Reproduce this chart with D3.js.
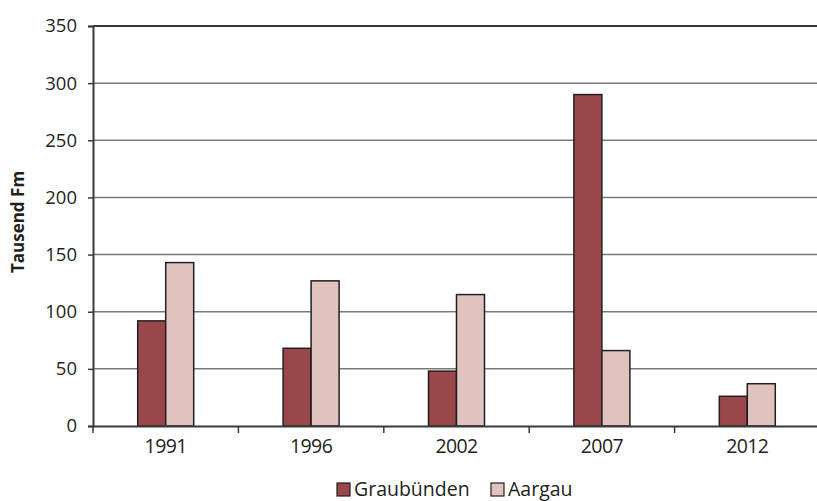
<!DOCTYPE html>
<html>
<head>
<meta charset="utf-8">
<script src="https://cdn.jsdelivr.net/npm/d3@7"></script>
<style>
  body { margin: 0; background: #fff; }
  text { font-family: "Open Sans", "Noto Sans", sans-serif; fill: #231f20; }
</style>
</head>
<body>
<div id="chart"></div>
<script>
// chart data
var years = ["1991", "1996", "2002", "2007", "2012"];
var seriesNames = ["Graubünden", "Aargau"];
var graubuenden = [92, 68, 48, 290, 26];
var aargau = [143, 127, 115, 66, 37];
var yTicks = [0, 50, 100, 150, 200, 250, 300, 350];

var colors = ["#9a474c", "#e0c3bf"];

var svgWidth = 817;
var svgHeight = 501;
var margin = { top: 26, right: -3, bottom: 75, left: 93 };
var chartWidth = svgWidth - margin.left - margin.right;
var chartHeight = svgHeight - margin.top - margin.bottom;

var svg = d3.select("#chart")
  .append("svg")
  .attr("width", svgWidth)
  .attr("height", svgHeight);

var chartGroup = svg.append("g")
  .attr("transform", `translate(${margin.left}, ${margin.top})`);

var rows = years.map(function(y, i) {
  return { year: y, values: [graubuenden[i], aargau[i]] };
});

// scales
var xScale = d3.scaleBand()
  .domain(years)
  .range([0, chartWidth]);

var xInner = d3.scaleBand()
  .domain(seriesNames)
  .range([0, 56]);

var yScale = d3.scaleLinear()
  .domain([0, 350])
  .range([chartHeight, 0]);

// gridlines
chartGroup.append("g")
  .selectAll("line")
  .data(yTicks.filter(d => d > 0))
  .enter()
  .append("line")
  .attr("x1", 0)
  .attr("x2", chartWidth)
  .attr("y1", d => yScale(d))
  .attr("y2", d => yScale(d))
  .attr("stroke", d => d === 350 ? "#3a3a3a" : "#7a7a7a")
  .attr("stroke-width", d => d === 350 ? 2 : 1.5);

// bars
var groups = chartGroup.selectAll(".grp")
  .data(rows)
  .enter()
  .append("g")
  .attr("transform", d => `translate(${xScale(d.year) + xScale.bandwidth() / 2 - 28}, 0)`);

groups.selectAll("rect")
  .data(d => d.values.map((v, i) => ({ name: seriesNames[i], value: v, idx: i })))
  .enter()
  .append("rect")
  .attr("x", d => xInner(d.name))
  .attr("y", d => yScale(d.value))
  .attr("width", xInner.bandwidth())
  .attr("height", d => chartHeight - yScale(d.value))
  .attr("fill", d => colors[d.idx])
  .attr("stroke", "#231f20")
  .attr("stroke-width", 1.5);

// y axis
var leftAxis = d3.axisLeft(yScale)
  .tickValues(yTicks)
  .tickSize(5)
  .tickPadding(11);

var yAxisG = chartGroup.append("g").call(leftAxis);
yAxisG.select(".domain").attr("stroke", "#3a3a3a").attr("stroke-width", 2);
yAxisG.selectAll(".tick line").attr("stroke", "#3a3a3a").attr("stroke-width", 1.5);
yAxisG.selectAll(".tick text")
  .style("font-size", "18.5px")
  .style("fill", "#231f20");

// x axis
var xAxisG = chartGroup.append("g")
  .attr("transform", `translate(0, ${chartHeight})`)
  .call(d3.axisBottom(xScale).tickSize(0).tickPadding(13));
xAxisG.select(".domain").attr("stroke", "#3a3a3a").attr("stroke-width", 2);
xAxisG.selectAll(".tick text")
  .style("font-size", "19.5px")
  .style("letter-spacing", "-0.6px")
  .style("fill", "#231f20");

// tick marks at band edges
xAxisG.selectAll(".edge")
  .data(years)
  .enter()
  .append("line")
  .attr("x1", d => xScale(d))
  .attr("x2", d => xScale(d))
  .attr("y1", 0)
  .attr("y2", 7)
  .attr("stroke", "#3a3a3a")
  .attr("stroke-width", 1.5);

// y axis title
svg.append("text")
  .attr("transform", `translate(24, 222) rotate(-90)`)
  .attr("text-anchor", "middle")
  .style("font-size", "17px")
  .style("font-weight", "bold")
  .text("Tausend Fm");

// legend
var legend = svg.append("g").attr("transform", "translate(337, 483)");
var legendX = [0, 154];
seriesNames.forEach(function(name, i) {
  var item = legend.append("g").attr("transform", `translate(${legendX[i]}, 0)`);
  item.append("rect")
    .attr("width", 13)
    .attr("height", 13)
    .attr("fill", colors[i])
    .attr("stroke", "#231f20")
    .attr("stroke-width", 1.2);
  item.append("text")
    .attr("x", 17)
    .attr("y", 13)
    .style("font-size", "19.5px")
    .text(name);
});
</script>
</body>
</html>
